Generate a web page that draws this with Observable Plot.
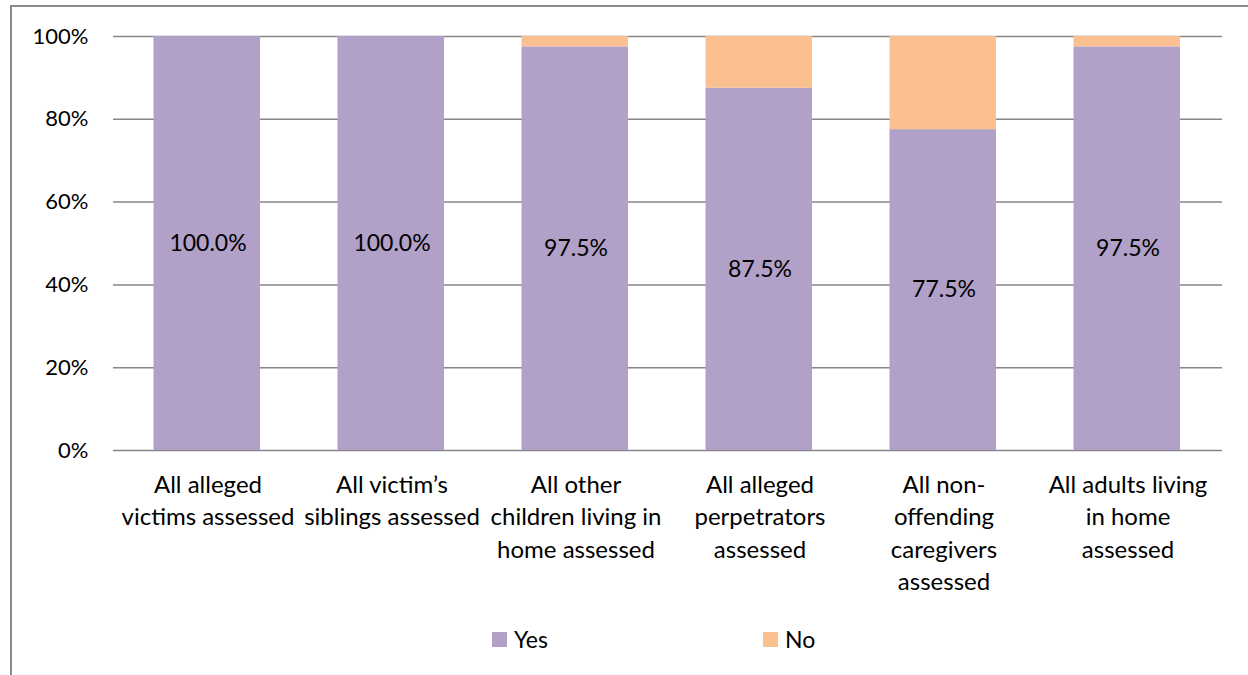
<!DOCTYPE html>
<html>
<head>
<meta charset="utf-8">
<script src="https://cdn.jsdelivr.net/npm/d3@7"></script>
<script src="https://cdn.jsdelivr.net/npm/@observablehq/plot@0.6"></script>
<style>
  html, body { margin: 0; padding: 0; background: #fff; }
  #wrap { position: relative; width: 1248px; height: 675px; overflow: hidden; font-family: Lato, "Open Sans", sans-serif; }
  #frame { position: absolute; left: 10px; top: 5px; width: 1260px; height: 700px; border-left: 2px solid #8a8a8a; border-top: 2px solid #8a8a8a; box-sizing: border-box; pointer-events: none; }
  #legend { position: absolute; top: 624px; left: 0; width: 1248px; height: 30px; font-size: 23px; color: #000; }
  .item { position: absolute; top: 0; display: flex; align-items: center; height: 30px; }
  .sw { width: 15px; height: 15px; margin-right: 7px; }
</style>
</head>
<body>
<div id="wrap">
  <div id="chart"></div>
  <div id="frame"></div>
  <div id="legend"></div>
</div>
<script>
const categories = [
  "All alleged victims assessed",
  "All victim’s siblings assessed",
  "All other children living in home assessed",
  "All alleged perpetrators assessed",
  "All non-offending caregivers assessed",
  "All adults living in home assessed"
];
const categoryLines = [
  "All alleged\nvictims assessed",
  "All victim’s\nsiblings assessed",
  "All other\nchildren living in\nhome assessed",
  "All alleged\nperpetrators\nassessed",
  "All non-\noffending\ncaregivers\nassessed",
  "All adults living\nin home\nassessed"
];
const seriesNames = ["Yes", "No"];
const seriesColors = ["#b1a0c7", "#fac090"];
const yesValues = [100.0, 100.0, 97.5, 87.5, 77.5, 97.5];
const noValues = [0.0, 0.0, 2.5, 12.5, 22.5, 2.5];
const yTicks = [0, 20, 40, 60, 80, 100];

const rows = [];
categories.forEach((c, i) => {
  rows.push({category: c, series: "Yes", value: yesValues[i]});
  rows.push({category: c, series: "No", value: noValues[i]});
});
const yesRows = rows.filter(d => d.series === "Yes");
const labelMap = new Map(categories.map((c, i) => [c, categoryLines[i]]));

const chart = Plot.plot({
  width: 1248,
  height: 675,
  marginTop: 36,
  marginBottom: 225,
  marginLeft: 113,
  marginRight: 26,
  style: {fontFamily: "Lato, 'Open Sans', sans-serif", fontSize: "22px", color: "#000", background: "transparent"},
  x: {domain: categories, paddingInner: 0.427, paddingOuter: 0.2135, label: null},
  y: {domain: [0, 100], label: null},
  color: {domain: seriesNames, range: seriesColors},
  marks: [
    Plot.gridY(yTicks, {stroke: "#868686", strokeOpacity: 1, strokeWidth: 1.5}),
    Plot.barY(rows, {x: "category", y: "value", fill: "series", order: seriesNames, insetLeft: -1.5, insetRight: 0}),
    Plot.text(yesRows, {x: "category", y: d => d.value / 2, text: d => d.value.toFixed(1) + "%", fill: "#000", fontSize: 23}),
    Plot.axisY(yTicks, {tickSize: 0, tickPadding: 25, tickFormat: d => d + "%", label: null, fontSize: 22}),
    Plot.axisX({tickSize: 0, tickPadding: 20, tickFormat: d => labelMap.get(d), lineHeight: 1.34, fontSize: 24, label: null})
  ]
});
document.getElementById("chart").appendChild(chart);

const legend = document.getElementById("legend");
const legendX = [492, 763];
seriesNames.forEach((s, i) => {
  const item = document.createElement("div");
  item.className = "item";
  item.style.left = legendX[i] + "px";
  const sw = document.createElement("div");
  sw.className = "sw";
  sw.style.background = seriesColors[i];
  const t = document.createElement("span");
  t.textContent = s;
  item.appendChild(sw);
  item.appendChild(t);
  legend.appendChild(item);
});
</script>
</body>
</html>
